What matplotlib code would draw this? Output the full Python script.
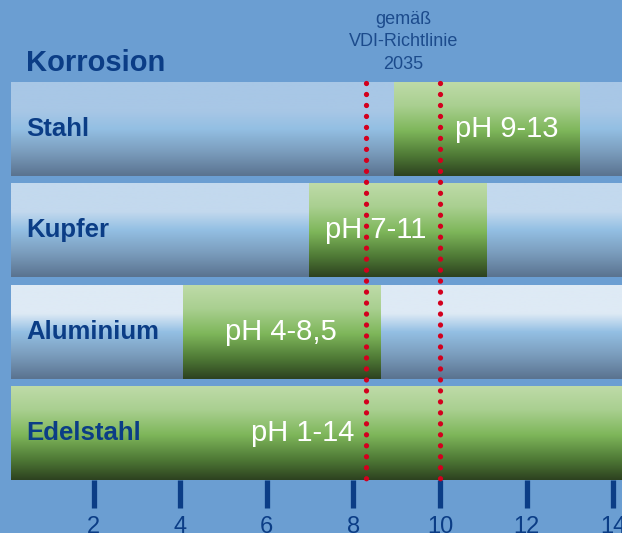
import numpy as np
import matplotlib
matplotlib.use("Agg")
import matplotlib.pyplot as plt
from matplotlib.colors import LinearSegmentedColormap

plt.rcParams['font.family'] = ['Liberation Sans', 'DejaVu Sans']

# Daten
metalle = ["Stahl", "Kupfer", "Aluminium", "Edelstahl"]
ph_labels = ["pH 9-13", "pH 7-11", "pH 4-8,5", "pH 1-14"]
bar_start = [8.93, 6.97, 4.06, 0.0]
bar_end = [13.21, 11.08, 8.61, 14.3]
vdi_grenzen = [8.29, 10.0]
ticks = [2, 4, 6, 8, 10, 12, 14]

# Layout
label_x = [11.53, 8.51, 6.33, 6.83]
row_tops = ["#a8c7e6", "#c3d9ee", "#deeaf5", None]
bg = "#6b9ed2"
dunkelblau = "#0b3d86"
h = 0.924
xmin, xmax = 0.092, 14.2

fig = plt.figure(figsize=(6.22, 5.33), dpi=100, facecolor=bg)
ax = fig.add_axes([11/622, 1-480/533, 1-11/622, (480-82)/533])
ax.set_facecolor(bg)

def verlauf(farben, stops):
    cm = LinearSegmentedColormap.from_list("v", list(zip(stops, farben)))
    return cm(np.linspace(0, 1, 200))[:, None, :3]

gruen = verlauf(["#bedba8", "#a9cf90", "#7eb65a", "#4f7a36", "#2d4220"], [0, 0.25, 0.52, 0.78, 1])

for i, m in enumerate(metalle):
    if row_tops[i] is not None:
        blau = verlauf([row_tops[i], row_tops[i], "#93bfe3", "#7a9cbc", "#5a7390"], [0, 0.3, 0.5, 0.75, 1])
        ax.imshow(blau, extent=(xmin, xmax, i + h/2, i - h/2), aspect='auto', zorder=1)
    x0 = max(bar_start[i], xmin)
    x1 = min(bar_end[i], xmax)
    ax.imshow(gruen, extent=(x0, x1, i + h/2, i - h/2), aspect='auto', zorder=2)
    ax.text(0.44, i, m, fontsize=18.5, fontweight='bold', color=dunkelblau,
            va='center', ha='left', zorder=5)
    ax.text(label_x[i], i, ph_labels[i], fontsize=21, color='white',
            va='center', ha='center', zorder=5)

# gepunktete Grenzlinien
for v in vdi_grenzen:
    ax.plot([v, v], [-h/2 + 0.01, 3 + h/2], color="#d3001e", lw=3.8,
            linestyle=(0, (0.01, 2.07)), dash_capstyle='round', zorder=6,
            clip_on=False)

ax.set_xlim(xmin, xmax)
ax.set_ylim(3 + h/2, -h/2)
ax.set_yticks([])
ax.set_xticks(ticks)
ax.tick_params(axis='x', direction='out', length=20, width=3.8, color=dunkelblau,
               labelcolor=dunkelblau, labelsize=17, pad=6)
for s in ax.spines.values():
    s.set_visible(False)

fig.text(26/622, 1-71/533, "Korrosion", fontsize=21, fontweight='bold',
         color=dunkelblau, va='baseline', ha='left')
fig.text(403.5/622, 1-42/533, "gemäß\nVDI-Richtlinie\n2035", fontsize=13,
         color="#1c4b8c", ha='center', va='center', linespacing=1.4)

fig.savefig("out.png", dpi=100, facecolor=bg)
